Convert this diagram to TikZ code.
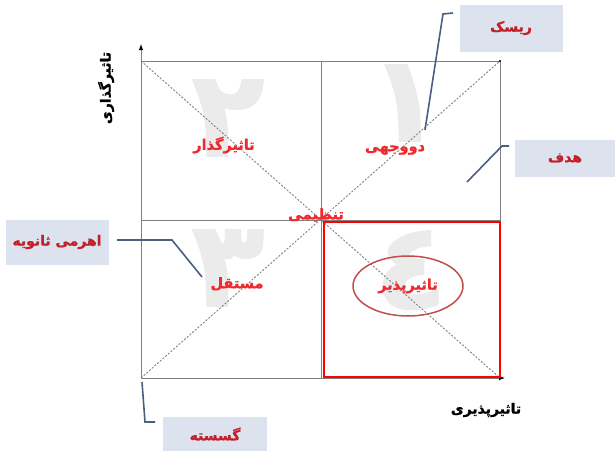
\documentclass[tikz,border=0pt]{standalone}
\usepackage{fontspec}
\newfontfamily\ar[Script=Arabic,BoldFeatures={FakeBold=1.2}]{DejaVu Sans}
\TeXXeTstate=1
\usetikzlibrary{arrows.meta,shapes.geometric}
\definecolor{lbl}{HTML}{EE2A2F}
\definecolor{boxtxt}{HTML}{C2202A}
\definecolor{boxfill}{HTML}{DCE3EE}
\definecolor{callout}{HTML}{4A5F7E}
\definecolor{grid}{HTML}{808080}
\definecolor{wm}{HTML}{EBEBEB}
\definecolor{ell}{HTML}{BF4E4C}
\tikzset{
  quadlbl/.style={text=lbl, font=\ar\bfseries\fontsize{14.5}{16}\selectfont, inner sep=1pt},
  axislbl/.style={text=black, font=\ar\bfseries\fontsize{14}{15}\selectfont, inner sep=1pt},
  calloutbox/.style={fill=boxfill, text=boxtxt, font=\ar\bfseries\fontsize{14}{15}\selectfont, inner sep=0pt},
  calloutline/.style={draw=callout, line width=1.6pt},
  gridline/.style={draw=grid, line width=0.9pt},
  diag/.style={draw=grid, line width=0.9pt, dash pattern=on 2pt off 1.6pt},
  digit/.style={text=wm, font=\ar\bfseries\fontsize{120}{120}\selectfont, inner sep=0pt}
}
\begin{document}
\begin{tikzpicture}[x=1pt,y=-1pt]
\useasboundingbox (0,0) rectangle (615,450);
% watermark digits
\node[digit] (d1) at (405,103) {\beginR ١\endR};
\node[digit] (d2) at (228,118) {\beginR ٢\endR};
\node[digit] (d3) at (228,268) {\beginR ٣\endR};
\node[digit] (d4) at (411,270) {\beginR ٤\endR};
% corners
\coordinate (O) at (141,378);
\coordinate (TL) at (141,61);
\coordinate (TR) at (500,61);
\coordinate (BR) at (500,378);
\coordinate (TM) at (321,61);
\coordinate (BM) at (321,378);
\coordinate (LM) at (141,220);
\coordinate (RM) at (500,220);
\coordinate (Ytip) at (141,44);
\coordinate (Xtip) at (505,378);
% grid
\draw[gridline] (TL) -- (TR) -- (BR);
\draw[gridline] (TM) -- (BM);
\draw[gridline] (LM) -- (RM);
\draw[diag] (TL) -- (BR);
\draw[diag] (O) -- (TR);
\fill[black] (TR) circle (1.2pt);
% axes
\draw[gridline, -{Latex[black,length=6pt,width=4.5pt]}] (O) -- (Ytip);
\draw[gridline, -{Latex[black,length=6pt,width=4.5pt]}] (O) -- (Xtip);
% red box
\coordinate (RB1) at (324,222);
\coordinate (RB2) at (500,377);
\draw[red, line width=1.8pt] (RB1) rectangle (RB2);
% quadrant labels
\node[quadlbl] (q2) at (224,145) {\beginR تاثیرگذار\endR};
\node[quadlbl] (q1) at (395,150) {\beginR دووجهی\endR};
\node[quadlbl] (q3) at (237,284) {\beginR مستقل\endR};
\node[quadlbl] (q0) at (316,215) {\beginR تنظیمی\endR};
\node[draw=ell, line width=1.5pt, ellipse, minimum width=110pt, minimum height=60pt, quadlbl] (q4) at (408,286) {\beginR تاثیرپذیر\endR};
% axis labels
\node[axislbl] (xl) at (486,410) {\beginR تاثیرپذیری\endR};
\node[axislbl, rotate=90] (yl) at (106,88) {\beginR تاثیرگذاری\endR};
% callout boxes
\node[calloutbox, minimum width=103pt, minimum height=47pt] (risk) at (511,28) {\beginR ریسک\endR};
\node[calloutbox, minimum width=100pt, minimum height=37pt] (goal) at (565,158) {\beginR هدف\endR};
\node[calloutbox, minimum width=103pt, minimum height=45pt] (lever) at (57,242) {\beginR اهرمی ثانویه\endR};
\node[calloutbox, minimum width=104pt, minimum height=34pt] (disc) at (215,434) {\beginR گسسته\endR};
% callout lines
\coordinate (r0) at (425,130);
\coordinate (r1) at (443,14);
\coordinate (r2) at (453,13);
\draw[calloutline] (r0) -- (r1) -- (r2);
\coordinate (g0) at (467,182);
\coordinate (g1) at (502,146);
\coordinate (g2) at (509,146);
\draw[calloutline] (g0) -- (g1) -- (g2);
\coordinate (l0) at (117,240);
\coordinate (l1) at (172,240);
\coordinate (l2) at (202,277);
\draw[calloutline] (l0) -- (l1) -- (l2);
\coordinate (c0) at (142,382);
\coordinate (c1) at (145,422);
\coordinate (c2) at (155,422);
\draw[calloutline] (c0) -- (c1) -- (c2);
\end{tikzpicture}
\end{document}
